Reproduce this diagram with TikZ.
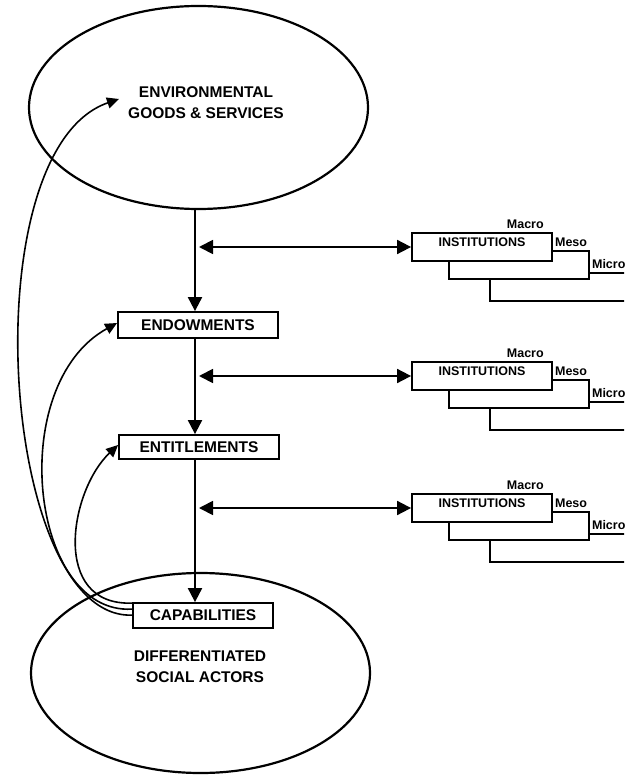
\documentclass[tikz,border=0pt]{standalone}
\usepackage{fontspec}
\setmainfont{Liberation Sans}
\usetikzlibrary{arrows.meta,shapes.geometric}

\begin{document}
\begin{tikzpicture}[x=1pt,y=1pt,
	oval/.style={draw,ellipse,line width=2.2pt,inner sep=0pt},
	big/.style={font=\fontsize{15.5}{21}\bfseries,align=center,inner sep=0pt},
	stage/.style={draw,fill=white,line width=1.8pt,inner sep=0pt,font=\fontsize{15.5}{18}\bfseries},
	inst/.style={draw,fill=white,line width=1.8pt,minimum width=140pt,minimum height=28pt,inner sep=0pt},
	tag/.style={font=\fontsize{12.5}{14}\bfseries,inner sep=0pt},
	flow/.style={line width=2pt,-{Triangle[length=14pt,width=14pt]}},
	link/.style={line width=1.8pt,{Triangle[length=14pt,width=14pt]}-{Triangle[length=14pt,width=14pt]}},
	loop/.style={line width=1.6pt,-{Triangle[length=12pt,width=11pt]}}]
	\useasboundingbox (0,0) rectangle (624,-775);
	\clip (0,0) rectangle (624,-775);

	% the two actors
	\node[oval,minimum width=339pt,minimum height=203pt] (env) at (198.5,-107.5) {};
	\node[big] (envtxt) at (206,-102.5) {ENVIRONMENTAL\\GOODS \& SERVICES};
	\node[oval,minimum width=339pt,minimum height=200pt] (actors) at (200.5,-673) {};
	\node[big] (actorstxt) at (200,-667) {DIFFERENTIATED\\SOCIAL ACTORS};

	% stages
	\node[stage,minimum width=160pt,minimum height=26pt] (endow) at (198,-325) {ENDOWMENTS};
	\node[stage,minimum width=160pt,minimum height=24pt] (entit) at (199,-447) {ENTITLEMENTS};
	\node[stage,minimum width=140pt,minimum height=25pt] (capab) at (203,-615.5) {CAPABILITIES};
	\coordinate (spine) at (195,0);

	\path[flow] (env.south -| spine) edge (endow.north -| spine);
	\path[flow] (endow.south -| spine) edge (entit.north -| spine);
	\path[flow] (entit.south -| spine) edge (capab.north -| spine);

	% institutions at three levels
	\foreach \n/\y in {1/247,2/376,3/508}{
		\node[inst] (ic\n) at (560,-\y-40) {};
		\node[inst] (ib\n) at (519,-\y-18) {};
		\node[inst] (ia\n) at (482,-\y) {};
		\node[tag,anchor=north] (it\n) at ([yshift=-5pt]ia\n.north) {INSTITUTIONS};
		\node[tag,anchor=south east] (mac\n) at ([xshift=-9pt,yshift=3.5pt]ia\n.north east) {Macro};
		\node[tag,anchor=south west] (mes\n) at ([xshift=2pt,yshift=3.5pt]ia\n.east |- ib\n.north) {Meso};
		\node[tag,anchor=south west] (mic\n) at ([xshift=2pt,yshift=3.5pt]ib\n.east |- ic\n.north) {Micro};
		\path[link] ([xshift=4pt]spine |- ia\n.west) edge (ia\n.west);
	}

	% feedback from capabilities
	\draw[loop] ([yshift=-13pt]capab.north west) .. controls (0,-620) and (-30,-150) .. ([xshift=-9pt,yshift=3.5pt]envtxt.west);
	\draw[loop] ([yshift=-7pt]capab.north west) .. controls (30,-615) and (5,-385) .. ([yshift=2pt]endow.west);
	\draw[loop] ([yshift=-1pt]capab.north west) .. controls (50,-606) and (70,-490) .. ([yshift=2pt]entit.west);
\end{tikzpicture}
\end{document}
